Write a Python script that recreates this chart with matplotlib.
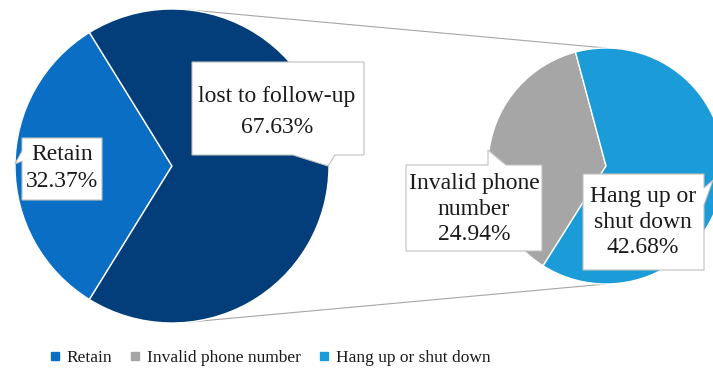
import numpy as np
import matplotlib.pyplot as plt
from matplotlib.patches import Polygon
from matplotlib.lines import Line2D

## Data
main_labels = ['Retain', 'lost to follow-up']
main_values = [32.37, 67.63]
sub_labels = ['Invalid phone\nnumber', 'Hang up or\nshut down']
sub_values = [24.94, 42.68]
legend_labels = ['Retain', 'Invalid phone number', 'Hang up or shut down']

main_colors = ['#0A6FC4', '#033E7A']
sub_colors = ['#A6A6A6', '#1B9BD7']

plt.rcParams['font.family'] = ['Liberation Serif', 'DejaVu Serif']

W, H = 713, 374
fig = plt.figure(figsize=(W / 100, H / 100), dpi=100)
ax = fig.add_axes([0, 0, 1, 1])

def fy(y):
    ## image y (top down) -> axes y
    return H - y

## Pie geometry (pixels)
c1, r1 = (172, fy(166)), 157
c2, r2 = (606, fy(166)), 118

## Connector lines
for a in [84, -84]:
    x0 = c1[0] + r1 * np.cos(np.radians(a))
    y0 = c1[1] + r1 * np.sin(np.radians(a))
    y1 = c2[1] + r2 * np.sign(a)
    ax.plot([x0, c2[0]], [y0, y1], color='#A6A6A6', lw=0.8, zorder=0)

start1 = 180 - main_values[0] / sum(main_values) * 360 / 2
ax.pie(main_values, colors=main_colors, center=c1, radius=r1,
       startangle=start1, counterclock=True,
       wedgeprops=dict(edgecolor='white', linewidth=1), frame=True)
ax.pie(sub_values, colors=sub_colors, center=c2, radius=r2,
       startangle=105, counterclock=True,
       wedgeprops=dict(edgecolor='white', linewidth=1), frame=True)

## Callout boxes (image coords)
boxes = [
    [(192, 62), (364, 62), (364, 155), (335, 155), (328, 166), (293, 155), (192, 155)],
    [(22, 138), (102, 138), (102, 200), (22, 200), (22, 161), (15, 164), (22, 151)],
    [(406, 165), (488, 165), (488, 150), (506, 165), (542, 165), (542, 251), (406, 251)],
    [(583, 174), (704, 174), (704, 188), (713, 180), (704, 205), (704, 270), (583, 270)],
]
for b in boxes:
    pts = [(x, fy(y)) for x, y in b]
    ax.add_patch(Polygon(pts, closed=True, facecolor='white', edgecolor='#BFBFBF',
                         lw=0.8, zorder=3))

texts = [
    (277, 112, f'{main_labels[1]}\n{main_values[1]:.2f}%', 1.6),
    (62, 168, f'{main_labels[0]}\n{main_values[0]:.2f}%', 1.35),
    (474, 209, f'{sub_labels[0]}\n{sub_values[0]:.2f}%', 1.3),
    (643, 222, f'{sub_labels[1]}\n{sub_values[1]:.2f}%', 1.3),
]
for x, y, s, ls in texts:
    ax.text(x, fy(y), s, ha='center', va='center', fontsize=17, color='#1A1A1A',
            linespacing=ls, zorder=4)

## Legend
handles = [Line2D([], [], marker='s', ls='none', markersize=6, color=c)
           for c in [main_colors[0], sub_colors[0], sub_colors[1]]]
fig.legend(handles, legend_labels, loc='center', bbox_to_anchor=(270 / W, 1 - 358 / H),
           ncol=3, frameon=False, fontsize=12.5, handlelength=0.6, handletextpad=0.4,
           columnspacing=1.0, labelcolor='#1A1A1A')

ax.set_xlim(0, W)
ax.set_ylim(0, H)
ax.set_aspect('equal')
ax.axis('off')

plt.savefig('out.png', dpi=100)
